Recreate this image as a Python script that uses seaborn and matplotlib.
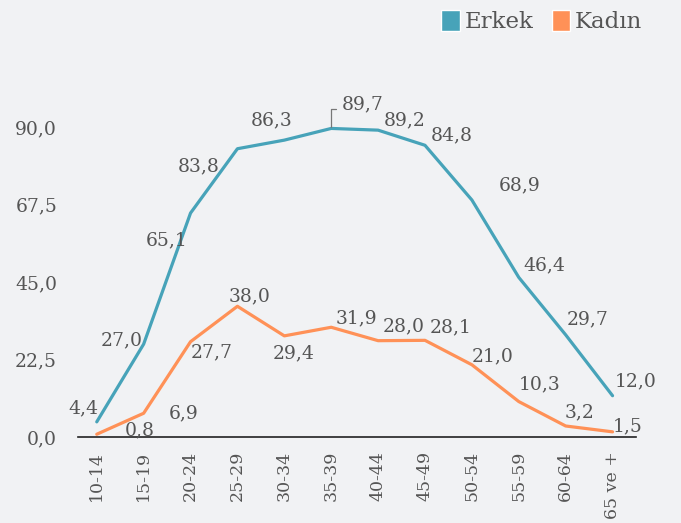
import matplotlib
matplotlib.use("Agg")
import matplotlib.pyplot as plt
from matplotlib.patches import Patch
import seaborn as sns
import pandas as pd

age_groups = ["10-14", "15-19", "20-24", "25-29", "30-34", "35-39",
              "40-44", "45-49", "50-54", "55-59", "60-64", "65 ve +"]
erkek = [4.4, 27.0, 65.1, 83.8, 86.3, 89.7, 89.2, 84.8, 68.9, 46.4, 29.7, 12.0]
kadin = [0.8, 6.9, 27.7, 38.0, 29.4, 31.9, 28.0, 28.1, 21.0, 10.3, 3.2, 1.5]
y_ticks = [0, 22.5, 45, 67.5, 90]
y_tick_labels = ["0,0", "22,5", "45,0", "67,5", "90,0"]

# label offsets in pixels (dx, dy), placement only
erkek_off = [(-13, 14), (-22, 4), (-24, -27), (-39, -18), (-13, 20), (0, 0),
             (27, 10), (27, 10), (48, 15), (26, 12), (22, 15), (23, 14)]
kadin_off = [(43, 4), (40, 0), (21, -11), (12, 10), (9, -17), (25, 9),
             (26, 14), (26, 13), (21, 8), (21, 17), (14, 14), (15, 5)]

bg = "#f1f2f4"
teal = "#47a3b9"
orange = "#ff9157"
txt = "#555555"
fs = 13.5

df = pd.DataFrame({
    "grup": age_groups * 2,
    "oran": erkek + kadin,
    "cinsiyet": ["Erkek"] * len(age_groups) + ["Kadın"] * len(age_groups),
})
df["x"] = list(range(len(age_groups))) * 2

sns.set_style("white")
plt.rcParams["font.family"] = ["DejaVu Serif", "DejaVu Sans"]

fig = plt.figure(figsize=(6.81, 5.23), dpi=100, facecolor=bg)
ax = fig.add_axes([78 / 681, 1 - 437 / 523, (636 - 78) / 681, (437 - 93) / 523])
ax.set_facecolor(bg)

sns.lineplot(data=df, x="x", y="oran", hue="cinsiyet",
             palette={"Erkek": teal, "Kadın": orange}, linewidth=2.3,
             legend=False, ax=ax)

ax.set_xlim(-0.4, 11.5)
ax.set_ylim(0, 100)
ax.set_xticks(range(len(age_groups)))
ax.set_xticklabels(age_groups, rotation=90, fontsize=12.5, color=txt)
ax.set_yticks(y_ticks)
ax.set_yticklabels(y_tick_labels, fontsize=fs, color=txt)
ax.tick_params(axis="x", length=0, pad=10)
ax.tick_params(axis="y", length=0, pad=15)
ax.set_xlabel("")
ax.set_ylabel("")
for s in ["top", "right", "left"]:
    ax.spines[s].set_visible(False)
ax.spines["bottom"].set_color("#222222")
ax.spines["bottom"].set_linewidth(1.2)

def fmt(v):
    return f"{v:.1f}".replace(".", ",")

for i, v in enumerate(erkek):
    if i == 5:
        ax.annotate(fmt(v), xy=(i, v), xytext=(11, 24), textcoords="offset pixels",
                    fontsize=fs, color=txt, ha="left", va="center",
                    arrowprops=dict(arrowstyle="-", color="#777777", lw=0.9,
                                    connectionstyle="angle,angleA=0,angleB=90,rad=0",
                                    relpos=(0, 0.25), shrinkA=2, shrinkB=1))
        continue
    dx, dy = erkek_off[i]
    ax.annotate(fmt(v), xy=(i, v), xytext=(dx, dy), textcoords="offset pixels",
                fontsize=fs, color=txt, ha="center", va="center")

for i, v in enumerate(kadin):
    dx, dy = kadin_off[i]
    ax.annotate(fmt(v), xy=(i, v), xytext=(dx, dy), textcoords="offset pixels",
                fontsize=fs, color=txt, ha="center", va="center")

handles = [Patch(facecolor=teal, label="Erkek"), Patch(facecolor=orange, label="Kadın")]
leg = fig.legend(handles=handles, loc="upper right", bbox_to_anchor=(652 / 681, 1.0),
                 ncol=2, frameon=False, fontsize=16.5, handlelength=0.8,
                 handleheight=1.0, handletextpad=0.2, columnspacing=0.8,
                 borderaxespad=0.05)
for t in leg.get_texts():
    t.set_color(txt)

fig.savefig("out.png", dpi=100, facecolor=bg)
